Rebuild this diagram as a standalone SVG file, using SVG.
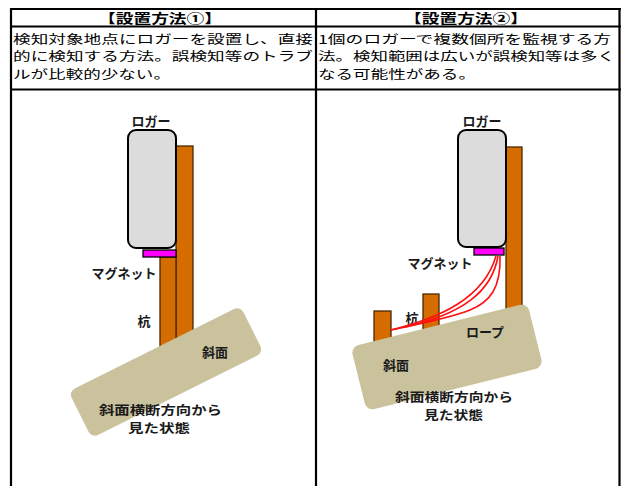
<svg xmlns="http://www.w3.org/2000/svg" width="622" height="486" viewBox="0 0 622 486">
  <style>
    .cell { font-family: "Noto Sans CJK JP", "Liberation Sans", sans-serif; font-size: 12px; fill: #000; }
    .head { font-family: "Noto Sans CJK JP", "Liberation Sans", sans-serif; font-size: 13px; font-weight: bold; fill: #000; }
    .lbl { font-family: "Noto Sans CJK JP", "Liberation Sans", sans-serif; font-size: 13px; font-weight: bold; fill: #1a1a1a; }
    .big { font-family: "Noto Sans CJK JP", "Liberation Sans", sans-serif; font-size: 12.4px; font-weight: bold; fill: #1a1a1a; }
    .grid { stroke: #000; stroke-width: 2.2; fill: none; }
    .logger { fill: #dcdcdc; stroke: #000; stroke-width: 2; }
    .pole { fill: #d46c00; stroke: #4a2a00; stroke-width: 1.3; }
    .magnet { fill: #ff00ff; stroke: #000; stroke-width: 1.3; }
    .slope { fill: #c9c29d; }
    .rope { fill: none; stroke: #ff1010; stroke-width: 1.6; }
  </style>

  <rect width="622" height="486" fill="#fff"/>

  <!-- table grid -->
  <g id="table">
    <line class="grid" x1="10" y1="9" x2="621" y2="9"/>
    <line class="grid" x1="10" y1="26.5" x2="621" y2="26.5"/>
    <line class="grid" x1="10" y1="89.5" x2="621" y2="89.5"/>
    <line class="grid" x1="11" y1="8" x2="11" y2="486"/>
    <line class="grid" x1="316" y1="8" x2="316" y2="486"/>
    <line class="grid" x1="619.5" y1="8" x2="619.5" y2="486"/>
  </g>

  <!-- column headings and descriptions -->
  <g id="header-1">
    <text class="head" x="98" y="23" textLength="124" lengthAdjust="spacingAndGlyphs">【設置方法①】</text>
    <text class="cell" x="13" y="43.5" textLength="300" lengthAdjust="spacingAndGlyphs">検知対象地点にロガーを設置し、直接</text>
    <text class="cell" x="13" y="61" textLength="300" lengthAdjust="spacingAndGlyphs">的に検知する方法。誤検知等のトラブ</text>
    <text class="cell" x="13" y="78.5" textLength="158" lengthAdjust="spacingAndGlyphs">ルが比較的少ない。</text>
  </g>
  <g id="header-2">
    <text class="head" x="404" y="23" textLength="124" lengthAdjust="spacingAndGlyphs">【設置方法②】</text>
    <text class="cell" x="318" y="43.5" textLength="293" lengthAdjust="spacingAndGlyphs">1個のロガーで複数個所を監視する方</text>
    <text class="cell" x="318" y="61" textLength="297" lengthAdjust="spacingAndGlyphs">法。検知範囲は広いが誤検知等は多く</text>
    <text class="cell" x="318" y="78.5" textLength="158" lengthAdjust="spacingAndGlyphs">なる可能性がある。</text>
  </g>

  <!-- method 1: logger fixed directly on a stake -->
  <g id="method-1">
    <rect class="pole" x="176" y="146" width="17" height="200"/>
    <rect class="pole" x="160" y="257" width="16" height="100"/>
    <g transform="translate(166 372) rotate(-26.5)">
      <rect class="slope" x="-96" y="-26" width="192" height="52" rx="7"/>
    </g>
    <rect class="logger" x="128" y="130" width="48" height="118" rx="8"/>
    <rect class="magnet" x="143" y="250" width="33" height="7"/>
    <text class="lbl" x="151" y="126" text-anchor="middle">ロガー</text>
    <text class="lbl" x="124" y="278" text-anchor="middle">マグネット</text>
    <text class="lbl" x="144" y="326" text-anchor="middle">杭</text>
    <text class="lbl" x="215" y="357" text-anchor="middle">斜面</text>
    <text class="big" x="99" y="415" textLength="123" lengthAdjust="spacingAndGlyphs">斜面横断方向から</text>
    <text class="big" x="128" y="433" textLength="62" lengthAdjust="spacingAndGlyphs">見た状態</text>
  </g>

  <!-- method 2: one logger watching several stakes by rope -->
  <g id="method-2">
    <rect class="pole" x="506" y="147" width="16" height="170"/>
    <rect class="pole" x="374" y="311" width="17" height="40"/>
    <rect class="pole" x="423" y="294" width="16" height="40"/>
    <g transform="translate(447 357) rotate(-14)">
      <rect class="slope" x="-91" y="-33" width="182" height="66" rx="8"/>
    </g>
    <rect class="logger" x="458" y="130" width="48" height="117" rx="8"/>
    <rect class="magnet" x="474" y="248" width="30" height="7"/>
    <text class="lbl" x="482" y="126" text-anchor="middle">ロガー</text>
    <text class="lbl" x="440" y="268" text-anchor="middle">マグネット</text>
    <text class="lbl" x="412" y="323" text-anchor="middle">杭</text>
    <text class="lbl" x="485" y="337" text-anchor="middle">ロープ</text>
    <text class="lbl" x="396" y="370" text-anchor="middle">斜面</text>
    <text class="big" x="395" y="401.5" textLength="118" lengthAdjust="spacingAndGlyphs">斜面横断方向から</text>
    <text class="big" x="424" y="419.5" textLength="59" lengthAdjust="spacingAndGlyphs">見た状態</text>
  </g>

  <!-- ropes from the magnet to the stakes -->
  <g id="connectors">
    <path class="rope" d="M496 256 C484 298 440 318 391 330"/>
    <path class="rope" d="M498 256 C492 292 462 314 405 327"/>
    <path class="rope" d="M500 256 C501 288 490 302 470 310 C450 318 415 325 391 330"/>
  </g>
</svg>
